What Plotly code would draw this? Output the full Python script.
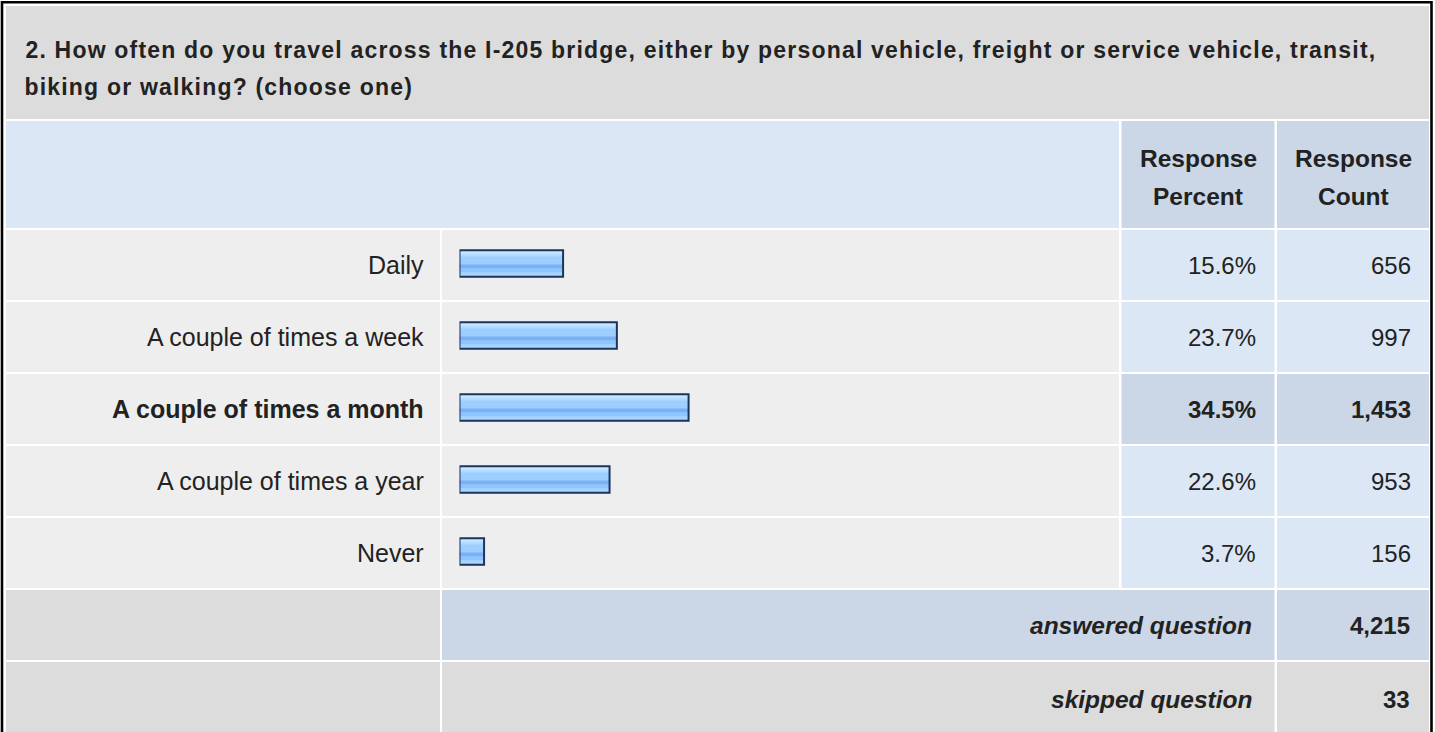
import plotly.graph_objects as go

# ---------------- data ----------------
question_line1 = "2. How often do you travel across the I-205 bridge, either by personal vehicle, freight or service vehicle, transit,"
question_line2 = "biking or walking? (choose one)"
categories = ["Daily", "A couple of times a week", "A couple of times a month",
              "A couple of times a year", "Never"]
response_percent = [15.6, 23.7, 34.5, 22.6, 3.7]
response_count = [656, 997, 1453, 953, 156]
answered_question = 4215
skipped_question = 33
header_percent = ["Response", "Percent"]
header_count = ["Response", "Count"]

# ---------------- layout constants (pixels) ----------------
W, H = 1435, 732
FONT = "Liberation Sans, Arial, sans-serif"
TXT = "#222222"
GRAY = "#DCDCDC"
LIGHT = "#EEEEEE"
BLUE = "#DCE7F5"
BLUE2 = "#CBD7E6"

ROW_TOP = 230
ROW_H = 72
COL_LABEL = (6, 440)
COL_BAR = (442, 1119)
COL_PCT = (1121.5, 1274.5)
COL_CNT = (1277, 1429)

PX_PER_PCT = 6.64
BAR_X0 = 459.5
BAR_CENTER_SHIFT = -1.5
BAR_H = 26.5

TITLE_SIZE = 23
TITLE_SPACING = 1.2
TITLE_LINE1_CENTER = 701
TITLE_LINE2_CENTER = 218


def fx(x):
    return x / W


def fy(y):
    return 1 - y / H


shapes = []


def rect(x0, y0, x1, y1, color):
    shapes.append(dict(type="rect", xref="paper", yref="paper",
                       x0=fx(x0), x1=fx(x1), y0=fy(y1), y1=fy(y0),
                       fillcolor=color, line=dict(width=0), layer="below"))


n = len(categories)
hi = response_percent.index(max(response_percent))

# title and header
rect(6, 6, 1429, 119, GRAY)
rect(COL_LABEL[0], 121, COL_BAR[1], 228, BLUE)
rect(COL_PCT[0], 121, COL_PCT[1], 228, BLUE2)
rect(COL_CNT[0], 121, COL_CNT[1], 228, BLUE2)
# data rows
for i in range(n):
    y0 = ROW_TOP + ROW_H * i
    y1 = y0 + ROW_H - 2
    rect(COL_LABEL[0], y0, COL_LABEL[1], y1, LIGHT)
    rect(COL_BAR[0], y0, COL_BAR[1], y1, LIGHT)
    c = BLUE2 if i == hi else BLUE
    rect(COL_PCT[0], y0, COL_PCT[1], y1, c)
    rect(COL_CNT[0], y0, COL_CNT[1], y1, c)
# answered / skipped rows
ya = ROW_TOP + ROW_H * n
rect(COL_LABEL[0], ya, COL_LABEL[1], ya + 70, GRAY)
rect(COL_BAR[0], ya, COL_PCT[1], ya + 70, BLUE2)
rect(COL_CNT[0], ya, COL_CNT[1], ya + 70, BLUE2)
ys = ya + ROW_H
rect(COL_LABEL[0], ys, COL_LABEL[1], ys + 80, GRAY)
rect(COL_BAR[0], ys, COL_PCT[1], ys + 80, GRAY)
rect(COL_CNT[0], ys, COL_CNT[1], ys + 80, GRAY)
# outer border
shapes.append(dict(type="rect", xref="paper", yref="paper",
                   x0=fx(2), x1=fx(1431.5), y0=fy(745), y1=fy(2.3),
                   line=dict(color="#000000", width=2.6), fillcolor="rgba(0,0,0,0)",
                   layer="above"))

# ---------------- bars (x2 / y2) ----------------
fig = go.Figure()
unit = ROW_H


def bar(a, b, color, line=None):
    fig.add_trace(go.Bar(
        y=categories, x=response_percent, orientation="h",
        xaxis="x2", yaxis="y2",
        width=(b - a) / unit, offset=a / unit,
        marker=dict(color=color,
                    line=dict(width=2 if line else 0, color=line or "rgba(0,0,0,0)")),
        hoverinfo="skip", showlegend=False))


hb = BAR_H / 2
bar(-hb, hb, "#9DCEFF")
bar(-hb, -9, "#C8E5FF")
bar(-9, -7, "#B3DBFF")
bar(1, 5, "#79B0F4")
bar(5, 9, "#8FC5FF")
bar(9, hb, "#A7D5FF")
bar(-hb, hb, "rgba(0,0,0,0)", line="#1C3560")

first_center = ROW_TOP + 35 + BAR_CENTER_SHIFT
dom_top = first_center - ROW_H / 2
dom_bot = dom_top + ROW_H * n

annotations = []


def ann(text, x, y, xanchor, size=24.5, yref="paper", yshift=0, bold=False, italic=False):
    if bold:
        text = "<b>" + text + "</b>"
    if italic:
        text = "<i>" + text + "</i>"
    annotations.append(dict(text=text, x=fx(x), y=y, xref="paper", yref=yref,
                            xanchor=xanchor, yanchor="middle", showarrow=False,
                            yshift=yshift,
                            font=dict(family=FONT, size=size, color=TXT)))


# title (centred on its span; letter spacing is added symmetrically)
ann(question_line1, TITLE_LINE1_CENTER, fy(50), "center", size=TITLE_SIZE, bold=True)
ann(question_line2, TITLE_LINE2_CENTER, fy(87), "center", size=TITLE_SIZE, bold=True)
# header
ann(header_percent[0], 1198, fy(158), "center", bold=True)
ann(header_percent[1], 1198, fy(196.3), "center", bold=True)
ann(header_count[0], 1353, fy(158), "center", bold=True)
ann(header_count[1], 1353, fy(196.3), "center", bold=True)
# rows
for i, cat in enumerate(categories):
    b = (i == hi)
    ann(cat, 426, cat, "right", size=25, yref="y2", yshift=BAR_CENTER_SHIFT, bold=b)
    ann(f"{response_percent[i]:.1f}%", 1258, cat, "right", size=24, yref="y2",
        yshift=BAR_CENTER_SHIFT, bold=b)
    ann(f"{response_count[i]:,}", 1413, cat, "right", size=24, yref="y2",
        yshift=BAR_CENTER_SHIFT, bold=b)
ann("answered question", 1254, fy(ya + 35), "right", bold=True, italic=True)
ann(f"{answered_question:,}", 1411.5, fy(ya + 35), "right", size=24, bold=True)
ann("skipped question", 1254, fy(ys + 37), "right", bold=True, italic=True)
ann(f"{skipped_question:,}", 1411.5, fy(ys + 37), "right", size=24, bold=True)

fig.update_layout(
    width=W, height=H,
    margin=dict(l=0, r=0, t=0, b=0),
    paper_bgcolor="#FFFFFF", plot_bgcolor="rgba(0,0,0,0)",
    barmode="overlay",
    xaxis=dict(visible=False), yaxis=dict(visible=False),
    xaxis2=dict(domain=[fx(BAR_X0), fx(BAR_X0 + 100 * PX_PER_PCT)], range=[0, 100],
                anchor="y2", visible=False, fixedrange=True),
    yaxis2=dict(domain=[fy(dom_bot), fy(dom_top)], type="category",
                categoryorder="array", categoryarray=categories,
                range=[n - 0.5, -0.5], anchor="x2", visible=False, fixedrange=True),
    shapes=shapes, annotations=annotations,
    showlegend=False,
)

post = (
    "document.documentElement.style.margin='0';"
    "document.body.style.margin='0';document.body.style.padding='0';"
    "document.documentElement.style.overflow='hidden';"
    "var gd=document.getElementById('{plot_id}');"
    "gd.querySelectorAll('.annotation-text').forEach(function(t){"
    "var s=t.textContent;"
    "if(s.indexOf('2. How')===0||s.indexOf('biking or')===0){t.style.letterSpacing='" + str(TITLE_SPACING) + "px';}"
    "});"
)

fig.write_html("out.html", post_script=post,
               config={"displayModeBar": False, "staticPlot": True})
